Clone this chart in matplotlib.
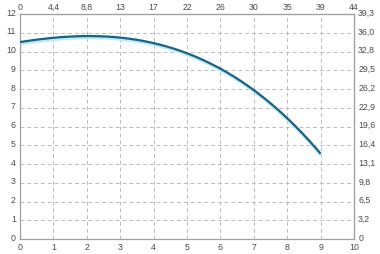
import matplotlib
matplotlib.use("Agg")
import matplotlib.pyplot as plt
from matplotlib.transforms import ScaledTranslation, offset_copy
import numpy as np

# data
flow = [0, 1, 2, 3, 4, 5, 6, 7, 8, 9]
head = [10.52, 10.72, 10.8, 10.72, 10.45, 9.97, 9.1, 7.93, 6.36, 4.6]

bottom_ticks = list(range(0, 11))
top_labels = ["0", "4,4", "8,8", "13", "17", "22", "26", "30", "35", "39", "44"]
left_ticks = list(range(0, 13))
right_labels = ["0", "3,2", "6,5", "9,8", "13,1", "16,4", "19,6", "22,9",
                "26,2", "29,5", "32,8", "36,0", "39,3"]

plt.rcParams['font.family'] = ['Liberation Sans', 'DejaVu Sans']
fs = 6.3
tc = '#4a4a4a'
spc = '#a0a0a0'

fig = plt.figure(figsize=(3.8, 2.55), dpi=100)
ax = fig.add_axes([20/380, 15/255, 334/380, 225/255])
ax.set_xlim(0, 10)
ax.set_ylim(0, 12)

# smooth curve through read points
xs = np.linspace(flow[0], flow[-1], 200)
coef = np.polyfit(flow, head, 3)
ys = np.polyval(coef, xs)

glow = offset_copy(ax.transData, fig=fig, x=0.8, y=-1.6, units='dots')
ax.plot(xs, ys, color='#b8eef8', lw=2.4, transform=glow, solid_capstyle='butt', zorder=3)
ax.plot(xs, ys, color='#1f5f82', lw=1.6, solid_capstyle='butt', zorder=4)

ax.set_xticks(bottom_ticks)
ax.set_yticks(left_ticks)
ax.set_xticklabels([str(t) for t in bottom_ticks])
ax.set_yticklabels([str(t) for t in left_ticks])
ax.grid(True, color='#bcbcbc', lw=0.7, linestyle=(0, (4, 3)))
ax.set_axisbelow(True)
ax.tick_params(length=0, labelsize=fs, labelcolor=tc)
ax.tick_params(axis='x', pad=2.5)
ax.tick_params(axis='y', pad=3)
for s in ax.spines.values():
    s.set_color(spc)
    s.set_linewidth(0.9)

up = ScaledTranslation(0, 2/72, fig.dpi_scale_trans)
for lab in ax.get_yticklabels():
    lab.set_transform(lab.get_transform() + up)

top = ax.secondary_xaxis('top')
top.set_xticks(bottom_ticks, top_labels)
top.tick_params(length=0, labelsize=fs, labelcolor=tc, pad=2.5)
top.spines['top'].set_color(spc)

right = ax.secondary_yaxis('right')
right.set_yticks(left_ticks, right_labels)
right.tick_params(length=0, labelsize=fs, labelcolor=tc, pad=3)
right.spines['right'].set_color(spc)
for lab in right.get_yticklabels():
    lab.set_transform(lab.get_transform() + up)

fig.savefig('out.png', dpi=100)
